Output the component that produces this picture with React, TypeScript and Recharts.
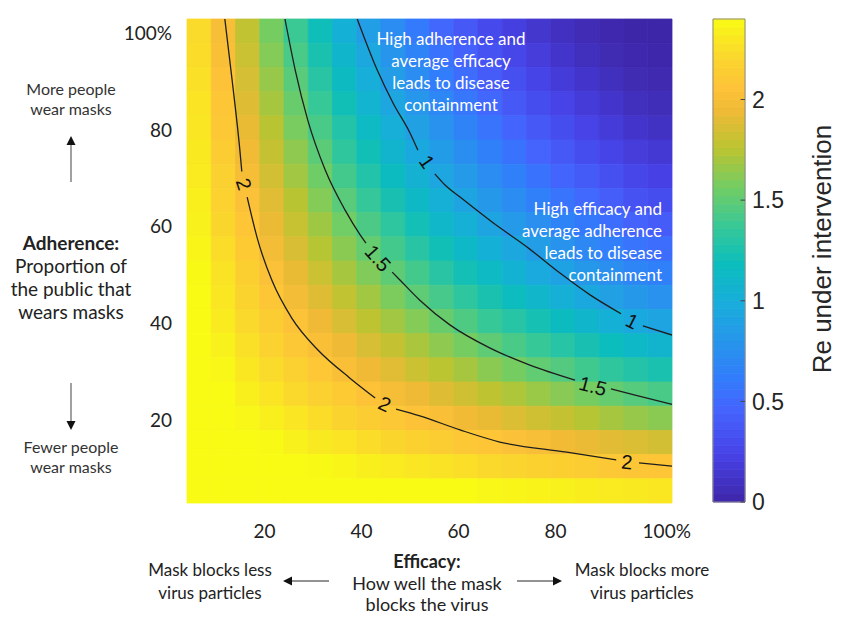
import React from 'react';
import { ScatterChart, Scatter, XAxis, YAxis, ReferenceArea, ReferenceDot, ReferenceLine } from 'recharts';

// heatmap grid: efficacy (%) at column centres, adherence (%) at row centres (top row first)
const efficacy = [6.5, 11.5, 16.5, 21.5, 26.5, 31.5, 36.5, 41.5, 46.5, 51.5, 56.5, 61.5, 66.5, 71.5, 76.5, 81.5, 86.5, 91.5, 96.5, 101.5];
const adherence = [100, 95, 90, 85, 80, 75, 70, 65, 60, 55, 50, 45, 40, 35, 30, 25, 20, 15, 10, 5];

// Re under intervention (rows follow `adherence`)
const reGrid = [
  [2.23, 2.00, 1.78, 1.57, 1.38, 1.20, 1.03, 0.87, 0.73, 0.60, 0.48, 0.38, 0.29, 0.21, 0.14, 0.09, 0.05, 0.02, 0.00, 0.00],
  [2.24, 2.02, 1.81, 1.61, 1.43, 1.25, 1.09, 0.94, 0.79, 0.67, 0.55, 0.44, 0.35, 0.26, 0.19, 0.13, 0.08, 0.04, 0.02, 0.01],
  [2.26, 2.05, 1.85, 1.66, 1.48, 1.31, 1.15, 1.00, 0.86, 0.73, 0.62, 0.51, 0.41, 0.32, 0.25, 0.18, 0.13, 0.08, 0.04, 0.03],
  [2.28, 2.08, 1.88, 1.70, 1.53, 1.37, 1.21, 1.07, 0.93, 0.81, 0.69, 0.58, 0.48, 0.39, 0.31, 0.24, 0.18, 0.13, 0.08, 0.06],
  [2.29, 2.10, 1.92, 1.75, 1.58, 1.43, 1.28, 1.14, 1.01, 0.88, 0.77, 0.66, 0.56, 0.47, 0.38, 0.31, 0.24, 0.18, 0.13, 0.10],
  [2.31, 2.13, 1.96, 1.79, 1.64, 1.49, 1.34, 1.21, 1.08, 0.96, 0.85, 0.74, 0.64, 0.55, 0.46, 0.39, 0.31, 0.25, 0.19, 0.16],
  [2.32, 2.16, 1.99, 1.84, 1.69, 1.55, 1.41, 1.28, 1.16, 1.04, 0.93, 0.83, 0.73, 0.64, 0.55, 0.47, 0.40, 0.33, 0.27, 0.23],
  [2.34, 2.18, 2.03, 1.89, 1.75, 1.61, 1.48, 1.36, 1.24, 1.13, 1.02, 0.92, 0.82, 0.73, 0.64, 0.56, 0.49, 0.42, 0.35, 0.31],
  [2.35, 2.21, 2.07, 1.93, 1.80, 1.68, 1.56, 1.44, 1.33, 1.22, 1.11, 1.02, 0.92, 0.83, 0.75, 0.67, 0.59, 0.52, 0.45, 0.41],
  [2.37, 2.24, 2.11, 1.98, 1.86, 1.74, 1.63, 1.52, 1.41, 1.31, 1.21, 1.12, 1.03, 0.94, 0.86, 0.78, 0.70, 0.63, 0.56, 0.52],
  [2.39, 2.27, 2.15, 2.03, 1.92, 1.81, 1.70, 1.60, 1.50, 1.41, 1.31, 1.22, 1.14, 1.05, 0.97, 0.90, 0.82, 0.75, 0.68, 0.64],
  [2.40, 2.29, 2.19, 2.08, 1.98, 1.88, 1.78, 1.69, 1.59, 1.50, 1.42, 1.33, 1.25, 1.17, 1.10, 1.02, 0.95, 0.88, 0.82, 0.77],
  [2.42, 2.32, 2.22, 2.13, 2.04, 1.95, 1.86, 1.77, 1.69, 1.61, 1.53, 1.45, 1.37, 1.30, 1.23, 1.16, 1.09, 1.03, 0.96, 0.92],
  [2.44, 2.35, 2.26, 2.18, 2.10, 2.02, 1.94, 1.86, 1.79, 1.71, 1.64, 1.57, 1.50, 1.43, 1.37, 1.30, 1.24, 1.18, 1.12, 1.08],
  [2.45, 2.38, 2.30, 2.23, 2.16, 2.09, 2.02, 1.95, 1.89, 1.82, 1.76, 1.70, 1.63, 1.57, 1.51, 1.46, 1.40, 1.34, 1.29, 1.25],
  [2.47, 2.41, 2.34, 2.28, 2.22, 2.16, 2.11, 2.05, 1.99, 1.94, 1.88, 1.83, 1.77, 1.72, 1.67, 1.62, 1.57, 1.52, 1.47, 1.43],
  [2.48, 2.43, 2.38, 2.34, 2.29, 2.24, 2.19, 2.14, 2.10, 2.05, 2.01, 1.96, 1.92, 1.87, 1.83, 1.79, 1.74, 1.70, 1.66, 1.63],
  [2.50, 2.46, 2.43, 2.39, 2.35, 2.31, 2.28, 2.24, 2.21, 2.17, 2.14, 2.10, 2.07, 2.03, 2.00, 1.96, 1.93, 1.90, 1.87, 1.84],
  [2.52, 2.49, 2.47, 2.44, 2.42, 2.39, 2.37, 2.34, 2.32, 2.29, 2.27, 2.25, 2.22, 2.20, 2.17, 2.15, 2.13, 2.10, 2.08, 2.07],
  [2.53, 2.52, 2.51, 2.50, 2.48, 2.47, 2.46, 2.45, 2.43, 2.42, 2.41, 2.40, 2.38, 2.37, 2.36, 2.35, 2.33, 2.32, 2.31, 2.30],
];

// contour lines as [efficacy, adherence] points, split where the labels sit
const contour2 = [
  [[11.8, 102.5], [13.3, 89.9], [14.9, 75.4], [15.3, 71.0]],
  [[16.4, 65.7], [18.6, 56.8], [21.5, 48.5], [25.6, 40.7], [31.0, 34.1], [37.6, 28.3], [42.8, 24.2]],
  [[47.1, 21.9], [52.0, 20.5], [60.3, 17.6], [68.5, 15.1], [82.3, 13.0], [92.5, 11.4]],
  [[97.2, 10.8], [104.0, 10.1]],
];
const contour15 = [
  [[24.2, 102.5], [26.3, 92.0], [28.9, 81.6], [32.5, 71.3], [36.6, 63.0], [39.7, 57.9], [40.9, 56.2]],
  [[46.3, 50.2], [47.3, 49.2], [52.0, 44.4], [58.2, 39.3], [66.5, 34.5], [74.7, 31.0], [84.0, 27.9]],
  [[91.4, 26.1], [96.4, 24.8], [104.0, 22.9]],
];
const contour1 = [
  [[39.1, 102.5], [43.2, 92.0], [46.5, 85.1], [50.0, 78.9], [51.6, 75.4]],
  [[55.1, 70.5], [57.2, 68.2], [60.3, 65.7], [67.1, 60.4], [74.1, 55.4], [80.9, 50.0], [87.1, 45.5], [93.5, 41.6]],
  [[98.0, 39.1], [104.0, 37.2]],
];
const contourLabels = [
  { text: '2', x: 15.75, y: 68.4, angle: 72 },
  { text: '2', x: 44.8, y: 23.0, angle: 25 },
  { text: '2', x: 94.7, y: 11.0, angle: 5 },
  { text: '1.5', x: 43.4, y: 53.1, angle: 48 },
  { text: '1.5', x: 87.7, y: 26.7, angle: 15 },
  { text: '1', x: 53.5, y: 73.0, angle: 55 },
  { text: '1', x: 95.8, y: 40.1, angle: 27 },
];

const xTicks = [20, 40, 60, 80, 100];
const yTicks = [20, 40, 60, 80, 100];
const cbTicks = [0, 0.5, 1, 1.5, 2];
const RE_MAX = 2.4;
const CELL = 5;

// parula colour map
const parulaPos = [0, 0.095, 0.19, 0.254, 0.333, 0.413, 0.492, 0.571, 0.651, 0.73, 0.81, 0.857, 0.921, 1];
const parulaHex = ['#3e26a8', '#4741e5', '#4563fd', '#327cfc', '#2796eb', '#18addb', '#0bbdbd', '#37c897', '#72cd64', '#b9c431', '#f0ba36', '#fec338', '#fad62d', '#f9fb15'];

const hexRgb = (h: string) => [1, 3, 5].map(i => parseInt(h.slice(i, i + 2), 16));
const parula = (t: number) => {
  const v = Math.max(0, Math.min(1, t));
  let i = 0;
  while (i < parulaPos.length - 2 && v > parulaPos[i + 1]) i++;
  const f = (v - parulaPos[i]) / (parulaPos[i + 1] - parulaPos[i]);
  const a = hexRgb(parulaHex[i]);
  const b = hexRgb(parulaHex[i + 1]);
  const c = a.map((ai, k) => Math.round(ai + (b[k] - ai) * f));
  return `rgb(${c[0]},${c[1]},${c[2]})`;
};

const toPts = (seg: number[][]) => seg.map(([x, y]) => ({ x, y }));

const XTick = (props: any) => {
  const { x, y, payload } = props;
  const full = payload.value === 100;
  return (
    <text x={full ? x - 10 : x} y={y + 28} dy="0.35em" textAnchor={full ? 'start' : 'middle'}
      fontFamily="Lato" fontSize={19} fill="#222">
      {full ? '100%' : payload.value}
    </text>
  );
};

const YTick = (props: any) => {
  const { x, y, payload } = props;
  return (
    <text x={x - 15} y={y + 2} dy="0.35em" textAnchor="end" fontFamily="Lato" fontSize={19} fill="#222">
      {payload.value === 100 ? '100%' : payload.value}
    </text>
  );
};

const CbTick = (props: any) => {
  const { x, y, payload } = props;
  return (
    <text x={x + 7} y={y} dy="0.36em" textAnchor="start" fontFamily="Liberation Sans, Arial" fontSize={23} fill="#262626">
      {payload.value}
    </text>
  );
};

const lato = { fontFamily: 'Lato', color: '#222', position: 'absolute' as const, textAlign: 'center' as const };

const HeatMap = () => (
  <ScatterChart width={850} height={624} margin={{ top: 19, right: 178, bottom: 81, left: 0 }}>
    <XAxis type="number" dataKey="x" domain={[4, 104]} ticks={xTicks} interval={0} height={40}
      axisLine={false} tickLine={false} tickSize={0} tickMargin={0} tick={<XTick />} allowDataOverflow />
    <YAxis type="number" dataKey="y" domain={[2.5, 102.5]} ticks={yTicks} interval={0} width={187}
      axisLine={false} tickLine={false} tickSize={0} tickMargin={0} tick={<YTick />} allowDataOverflow />
    {reGrid.map((row, i) =>
      row.map((v, j) => {
        const c = parula(v / RE_MAX);
        return (
          <ReferenceArea key={`c${i}-${j}`} x1={efficacy[j] - CELL / 2} x2={efficacy[j] + CELL / 2}
            y1={adherence[i] - CELL / 2} y2={adherence[i] + CELL / 2}
            fill={c} fillOpacity={1} stroke={c} strokeWidth={0.8} />
        );
      })
    )}
    {[...contour2, ...contour15, ...contour1].map((seg, k) => (
      <Scatter key={`s${k}`} data={toPts(seg)} fill="#1e1e1e" isAnimationActive={false}
        line={{ stroke: '#1e1e1e', strokeWidth: 1.3 }} lineJointType="monotoneX" shape={() => <g />} />
    ))}
    {contourLabels.map((l, k) => (
      <ReferenceDot key={`l${k}`} x={l.x} y={l.y} r={1}
        shape={(p: any) => (
          <text x={p.cx} y={p.cy} dy="0.36em" textAnchor="middle" fontFamily="Liberation Sans, Arial"
            fontSize={20} fill="#111" transform={`rotate(${l.angle}, ${p.cx}, ${p.cy})`}>
            {l.text}
          </text>
        )} />
    ))}
  </ScatterChart>
);

const ColorBar = () => {
  const n = 60;
  const stripes = Array.from({ length: n }, (_, k) => k);
  return (
    <ScatterChart width={160} height={624} margin={{ top: 19, right: 45, bottom: 122, left: 23 }}>
      <XAxis type="number" dataKey="x" domain={[0, 1]} hide allowDataOverflow />
      <YAxis type="number" dataKey="y" orientation="right" domain={[0, RE_MAX]} ticks={cbTicks} interval={0}
        width={60} axisLine={false} tickLine={false} tickSize={0} tickMargin={0} tick={<CbTick />} allowDataOverflow />
      {stripes.map(k => {
        const c = parula((k + 0.5) / n);
        return (
          <ReferenceArea key={k} x1={0} x2={1} y1={(k * RE_MAX) / n} y2={((k + 1) * RE_MAX) / n}
            fill={c} fillOpacity={1} stroke={c} strokeWidth={0.8} />
        );
      })}
      <ReferenceArea x1={0} x2={1} y1={0} y2={RE_MAX} fill="none" stroke="#8c8c8c" strokeWidth={1} />
      {cbTicks.map(t => (
        <ReferenceLine key={t} segment={[{ x: 0.86, y: t }, { x: 1, y: t }]} stroke="#444" strokeWidth={1} />
      ))}
    </ScatterChart>
  );
};

const Arrow = ({ x1, y1, x2, y2 }: { x1: number; y1: number; x2: number; y2: number }) => {
  const a = Math.atan2(y2 - y1, x2 - x1);
  const len = 9;
  const w = 4.5;
  const bx = x2 - len * Math.cos(a);
  const by = y2 - len * Math.sin(a);
  const px = -Math.sin(a) * w;
  const py = Math.cos(a) * w;
  return (
    <g>
      <line x1={x1} y1={y1} x2={bx} y2={by} stroke="#6e6e6e" strokeWidth={1.3} />
      <polygon points={`${x2},${y2} ${bx + px},${by + py} ${bx - px},${by - py}`} fill="#111" />
    </g>
  );
};

export default function App() {
  return (
    <div style={{ position: 'absolute', left: 0, top: 0, width: 850, height: 624, background: '#fff', overflow: 'hidden' }}>
      <HeatMap />
      <div style={{ position: 'absolute', left: 690, top: 0 }}>
        <ColorBar />
      </div>
      <div style={{ position: 'absolute', left: 672, top: 234, width: 300, height: 30, lineHeight: '30px', textAlign: 'center',
        transform: 'rotate(-90deg)', fontFamily: 'Liberation Sans, Arial', fontSize: 26, color: '#262626' }}>
        Re under intervention
      </div>

      {/* white notes inside the plot */}
      <div style={{ ...lato, color: '#fff', left: 351, top: 28, width: 200, fontSize: 17, lineHeight: '22px' }}>
        High adherence and<br />average efficacy<br />leads to disease<br />containment
      </div>
      <div style={{ ...lato, color: '#fff', textAlign: 'right', left: 462, top: 198, width: 200, fontSize: 17, lineHeight: '22px' }}>
        High efficacy and<br />average adherence<br />leads to disease<br />containment
      </div>

      {/* left side notes */}
      <div style={{ ...lato, left: 0, top: 79, width: 142, fontSize: 16, lineHeight: '20px', color: '#333' }}>
        More people<br />wear masks
      </div>
      <div style={{ ...lato, left: 0, top: 231, width: 142, fontSize: 19, lineHeight: '23px' }}>
        <b>Adherence:</b><br />Proportion of<br />the public that<br />wears masks
      </div>
      <div style={{ ...lato, left: 0, top: 437, width: 142, fontSize: 16, lineHeight: '20px', color: '#333' }}>
        Fewer people<br />wear masks
      </div>

      {/* bottom notes */}
      <div style={{ ...lato, left: 110, top: 558, width: 200, fontSize: 17, lineHeight: '23px' }}>
        Mask blocks less<br />virus particles
      </div>
      <div style={{ ...lato, left: 327, top: 551, width: 200, fontSize: 18, lineHeight: '21.5px' }}>
        <b>Efficacy:</b><br />How well the mask<br />blocks the virus
      </div>
      <div style={{ ...lato, left: 542, top: 558, width: 200, fontSize: 17, lineHeight: '23px' }}>
        Mask blocks more<br />virus particles
      </div>

      <svg width={850} height={624} style={{ position: 'absolute', left: 0, top: 0, pointerEvents: 'none' }}>
        <Arrow x1={71} y1={182} x2={71} y2={136} />
        <Arrow x1={71} y1={383} x2={71} y2={430} />
        <Arrow x1={329} y1={581} x2={283} y2={581} />
        <Arrow x1={517} y1={581} x2={562} y2={581} />
      </svg>
    </div>
  );
}
